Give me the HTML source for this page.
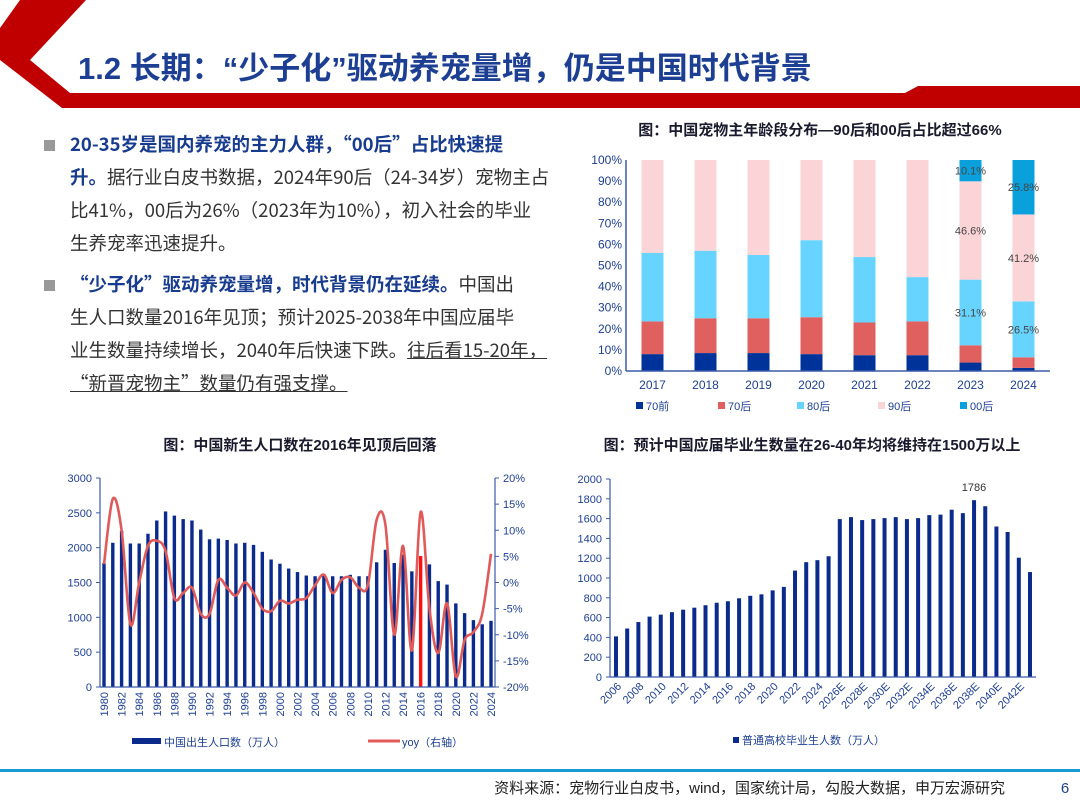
<!DOCTYPE html>
<html><head><meta charset="utf-8">
<style>
html,body{margin:0;padding:0;background:#fff;}
body{width:1080px;height:810px;position:relative;overflow:hidden;font-family:"Liberation Sans","Noto Sans CJK SC",sans-serif;}
svg text{font-family:"Liberation Sans","Noto Sans CJK SC",sans-serif;}
.txt{position:absolute;left:70px;top:128px;width:500px;font-size:18.5px;line-height:33px;color:#333;font-family:"Noto Sans CJK SC",sans-serif;}
.txt div{white-space:nowrap;}
.b{color:#173b8f;font-weight:bold;}
.u{text-decoration:underline;}
.bul{position:absolute;left:-26px;width:11px;height:11px;background:#999;}
</style></head>
<body>
<svg id="main" width="1080" height="810" style="position:absolute;left:0;top:0">
  <polygon fill="#c00000" points="20,0 86,0 30,60 70,93 905,93 918,86 1080,86 1080,108 62,108 0,60 0,28"/>
  <text x="78" y="79" font-size="31" font-weight="bold" fill="#1c3f94">1.2 长期：“少子化”驱动养宠量增，仍是中国时代背景</text>
  <text x="820" y="135" font-size="15" font-weight="bold" fill="#1a1a2e" text-anchor="middle">图：中国宠物主年龄段分布—90后和00后占比超过66%</text>
  <text x="300" y="450" font-size="15" font-weight="bold" fill="#1a1a2e" text-anchor="middle">图：中国新生人口数在2016年见顶后回落</text>
  <text x="812" y="450" font-size="15" font-weight="bold" fill="#1a1a2e" text-anchor="middle">图：预计中国应届毕业生数量在26-40年均将维持在1500万以上</text>
  <rect x="0" y="769" width="1080" height="3" fill="#1a9ad6"/>
  <text x="1005" y="793" font-size="15" fill="#222" text-anchor="end">资料来源：宠物行业白皮书，wind，国家统计局，勾股大数据，申万宏源研究</text>
  <text x="1065" y="793" font-size="15" fill="#1c3f94" text-anchor="middle">6</text>
  <g id="c1"></g><g id="c2"></g><g id="c3"></g>
</svg>

<div class="txt">
  <span class="bul" style="top:12px"></span>
  <div><span class="b">20-35岁是国内养宠的主力人群，“00后”占比快速提</span></div>
  <div><span class="b">升。</span>据行业白皮书数据，2024年90后（24-34岁）宠物主占</div>
  <div>比41%，00后为26%（2023年为10%），初入社会的毕业</div>
  <div style="margin-bottom:8px">生养宠率迅速提升。</div>
  <span class="bul" style="top:152px"></span>
  <div><span class="b">“少子化”驱动养宠量增，时代背景仍在延续。</span>中国出</div>
  <div>生人口数量2016年见顶；预计2025-2038年中国应届毕</div>
  <div>业生数量持续增长，2040年后快速下跌。<span class="u">往后看15-20年，</span></div>
  <div><span class="u">“新晋宠物主”数量仍有强支撑。</span></div>
</div>

<script>
// ---------- Chart 1 data ----------
const c1Years = ['2017','2018','2019','2020','2021','2022','2023','2024'];
const c1Pre70 = [8,8.5,8.5,8,7.5,7.5,4,1.5];
const c1Post70 = [15.5,16.5,16.5,17.5,15.5,16,8.2,5];
const c1Post80 = [32.5,32,30,36.5,31,21,31.1,26.5];
const c1Post90 = [44,43,45,38,46,55.5,46.6,41.2];
const c1Post00 = [0,0,0,0,0,0,10.1,25.8];
const c1Ticks = ['0%','10%','20%','30%','40%','50%','60%','70%','80%','90%','100%'];
const c1Series = ['70前','70后','80后','90后','00后'];

// ---------- Chart 2 data ----------
const c2Years = [];
for (let y=1980;y<=2024;y++) c2Years.push(String(y));
const c2Births = [1780,2070,2240,2060,2060,2200,2390,2520,2460,2410,2390,2260,2120,2130,2110,2060,2070,2040,1940,1830,1770,1700,1650,1600,1590,1620,1590,1590,1610,1590,1590,1790,1970,1780,1900,1660,1880,1760,1520,1470,1200,1060,960,900,950];
const c2Yoy = [3.5,16,10,-8,0,7,8,6,-3,-2,-1,-6,-6,0.5,-1,-2.5,0,-2,-5,-5.5,-3.5,-4,-3.3,-3,-0.5,1.5,-2,0.5,1,-1,-0.5,12,11,-10,7,-13,13.5,-5,-13.5,-4,-18,-11,-9.5,-6,5.5];
const c2LeftTicks = ['0','500','1000','1500','2000','2500','3000'];
const c2RightTicks = ['-20%','-15%','-10%','-5%','0%','5%','10%','15%','20%'];

// ---------- Chart 3 data ----------
const c3Years = [];
for (let y=2006;y<=2043;y++) c3Years.push(y<=2025?String(y):y+'E');
const c3Grads = [410,490,555,610,630,655,680,700,725,750,765,795,820,835,875,910,1075,1160,1180,1220,1595,1615,1585,1595,1605,1615,1595,1605,1635,1640,1690,1655,1786,1725,1520,1465,1205,1060];
const c3Ticks = ['0','200','400','600','800','1000','1200','1400','1600','1800','2000'];

const NS='http://www.w3.org/2000/svg';
function mk(tag, attrs, parent, txt){
  const e=document.createElementNS(NS,tag);
  for(const k in attrs) e.setAttribute(k,attrs[k]);
  if(txt!==undefined) e.textContent=txt;
  parent.appendChild(e); return e;
}
const AX='#3b5ba9', TK='#1c3f94';

// ===== Chart 1 =====
(function(){
  const g=document.getElementById('c1');
  const clip=mk('clipPath',{id:'cl1'},g); mk('rect',{x:590,y:140,width:480,height:290},clip);
  const gg=mk('g',{'clip-path':'url(#cl1)'},g);
  const x0=626,x1=1050,yTop=160,yBot=371;
  const Y=v=>yBot-(v/100)*(yBot-yTop);
  const step=(x1-x0)/c1Years.length;
  const X=i=>x0+step*(i+0.5);
  const colors=['#003399','#e06060','#66d4ff','#fad4d6','#0aa0dc'];
  const series=[c1Pre70,c1Post70,c1Post80,c1Post90,c1Post00];
  c1Ticks.forEach((t,i)=>{
    const e=mk('text',{x:x0-4,y:Y(i*10)+4,'font-size':12,fill:TK,'text-anchor':'end'},gg,t);
    
    
  });
  c1Years.forEach((yr,i)=>{
    let acc=0;
    series.forEach((s,k)=>{
      const v=s[i]; if(!v) return;
      const r=mk('rect',{x:X(i)-11,y:Y(acc+v),width:22,height:Y(acc)-Y(acc+v),fill:colors[k]},gg);
      
      
      if(i>=6 && k>=2){
        const l=mk('text',{x:X(i),y:(Y(acc+v)+Y(acc))/2+4,'font-size':11,fill:'#444','text-anchor':'middle'},gg,v.toFixed(1)+'%');
        
        
      }
      acc+=v;
    });
    const t=mk('text',{x:X(i),y:yBot+18,'font-size':12,fill:TK,'text-anchor':'middle'},gg,yr);
    
    
  });
  mk('line',{x1:x0,y1:yTop,x2:x0,y2:yBot,stroke:AX,'stroke-width':1.5},gg);
  mk('line',{x1:x0,y1:yBot,x2:x1,y2:yBot,stroke:AX,'stroke-width':1.5},gg);
  const lx=[636,718,797,878,960];
  c1Series.forEach((s,k)=>{
    const r=mk('rect',{x:lx[k],y:402,width:7,height:7,fill:colors[k]},gg);
    
    
    const t=mk('text',{x:lx[k]+10,y:410,'font-size':11,fill:TK},gg,s);
    
    
  });
})();

// ===== Chart 2 =====
(function(){
  const g=document.getElementById('c2');
  const x0=100,x1=495,yTop=478,yBot=687;
  const YL=v=>yBot-(v/3000)*(yBot-yTop);
  const YR=v=>yBot-((v+20)/40)*(yBot-yTop);
  const n=c2Years.length;
  const X=i=>104+i*(491-104)/(n-1);
  c2LeftTicks.forEach((t,i)=>{
    const e=mk('text',{x:x0-8,y:YL(i*500)+4,'font-size':11,fill:TK,'text-anchor':'end'},g,t);
    
    
    mk('line',{x1:x0-4,y1:YL(i*500),x2:x0,y2:YL(i*500),stroke:AX},g);
  });
  c2RightTicks.forEach((t,i)=>{
    const v=-20+i*5;
    const e=mk('text',{x:x1+8,y:YR(v)+4,'font-size':11,fill:TK},g,t);
    
    
    mk('line',{x1:x1,y1:YR(v),x2:x1+4,y2:YR(v),stroke:AX},g);
  });
  c2Births.forEach((v,i)=>{
    const r=mk('rect',{x:X(i)-1.7,y:YL(v),width:3.4,height:yBot-YL(v),fill:c2Years[i]==='2016'?'#ff1010':'#0a2a8c'},g);
    
    
  });
  c2Years.forEach((yr,i)=>{
    if(i%2) return;
    const t=mk('text',{x:0,y:0,'font-size':11,fill:TK,'text-anchor':'end',transform:`translate(${X(i)+4},${yBot+5}) rotate(-90)`},g,yr);
    
    
  });
  const pts=c2Yoy.map((v,i)=>[X(i),YR(v)]);
  let d='M'+pts[0][0]+','+pts[0][1];
  for(let i=0;i<pts.length-1;i++){
    const p0=pts[Math.max(i-1,0)],p1=pts[i],p2=pts[i+1],p3=pts[Math.min(i+2,pts.length-1)];
    const t=1/6;
    d+=` C${p1[0]+(p2[0]-p0[0])*t},${p1[1]+(p2[1]-p0[1])*t} ${p2[0]-(p3[0]-p1[0])*t},${p2[1]-(p3[1]-p1[1])*t} ${p2[0]},${p2[1]}`;
  }
  const ln=mk('path',{d:d,fill:'none',stroke:'#e05a5a','stroke-width':2.6},g);
  
  
  mk('line',{x1:x0,y1:yTop,x2:x0,y2:yBot,stroke:AX,'stroke-width':1.2},g);
  mk('line',{x1:x1,y1:yTop,x2:x1,y2:yBot,stroke:AX,'stroke-width':1.2},g);
  mk('line',{x1:x0,y1:yBot,x2:x1,y2:yBot,stroke:AX,'stroke-width':1.2},g);
  const s1=mk('rect',{x:132,y:738,width:29,height:6,fill:'#0a2a8c'},g);
  
  
  const t1=mk('text',{x:164,y:746,'font-size':11,fill:TK},g,'中国出生人口数（万人）');
  
  
  const s2=mk('line',{x1:368,y1:741,x2:400,y2:741,stroke:'#e05a5a','stroke-width':3},g);
  
  
  const t2=mk('text',{x:402,y:746,'font-size':11,fill:TK},g,'yoy（右轴）');
  
  
})();

// ===== Chart 3 =====
(function(){
  const g=document.getElementById('c3');
  const x0=610,x1=1036,yTop=479,yBot=677;
  const Y=v=>yBot-(v/2000)*(yBot-yTop);
  const n=c3Years.length;
  const X=i=>616+i*(1030-616)/(n-1);
  c3Ticks.forEach((t,i)=>{
    const e=mk('text',{x:x0-8,y:Y(i*200)+4,'font-size':11,fill:TK,'text-anchor':'end'},g,t);
    
    
    mk('line',{x1:x0-4,y1:Y(i*200),x2:x0,y2:Y(i*200),stroke:AX},g);
  });
  c3Grads.forEach((v,i)=>{
    const r=mk('rect',{x:X(i)-2,y:Y(v),width:4,height:yBot-Y(v),fill:'#0a2a8c'},g);
    
    
  });
  const mx=c3Grads.indexOf(Math.max(...c3Grads));
  const lb=mk('text',{x:X(mx),y:Y(c3Grads[mx])-9,'font-size':11,fill:'#333','text-anchor':'middle'},g,String(c3Grads[mx]));
  
  
  c3Years.forEach((yr,i)=>{
    if(i%2) return;
    const t=mk('text',{x:0,y:0,'font-size':11,fill:TK,'text-anchor':'end',transform:`translate(${X(i)+6},${yBot+10}) rotate(-45)`},g,yr);
    
    
  });
  mk('line',{x1:x0,y1:yTop,x2:x0,y2:yBot,stroke:AX,'stroke-width':1.2},g);
  mk('line',{x1:x0,y1:yBot,x2:x1,y2:yBot,stroke:AX,'stroke-width':1.2},g);
  const s=mk('rect',{x:733,y:737,width:6,height:6,fill:'#0a2a8c'},g);
  
  
  const t=mk('text',{x:742,y:744,'font-size':11,fill:TK},g,'普通高校毕业生人数（万人）');
  
  
})();
</script>
</body></html>
